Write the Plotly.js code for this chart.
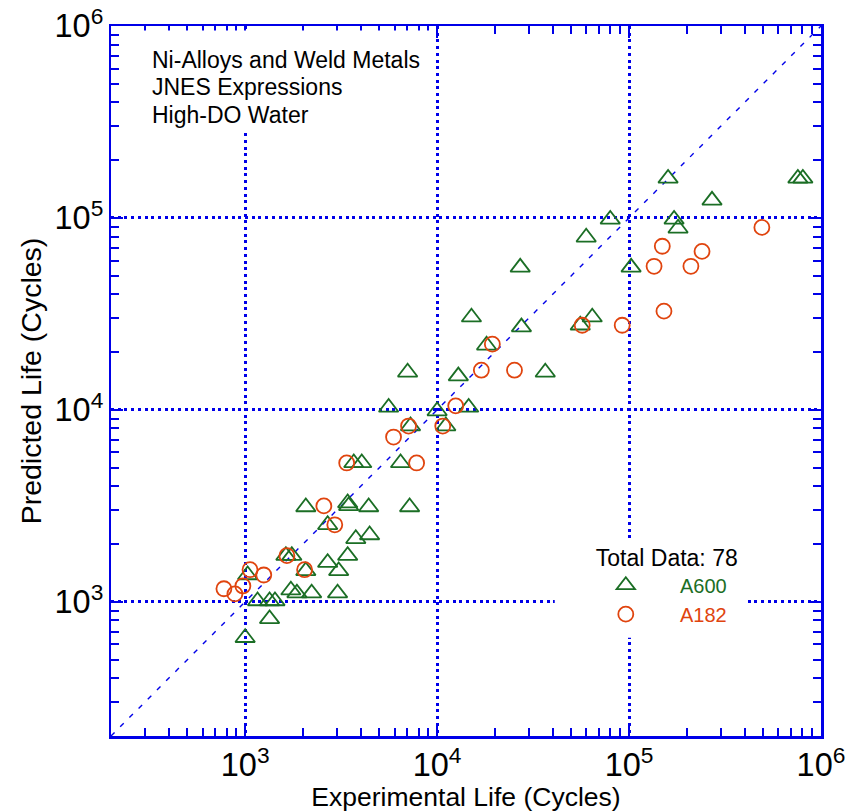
<!DOCTYPE html>
<html>
<head>
<meta charset="utf-8">
<script src="https://cdn.plot.ly/plotly-3.0.1.min.js"></script>
<style>html,body{margin:0;padding:0;background:#fff;}#chart{width:851px;height:812px;}</style>
</head>
<body>
<div id="chart"></div>
<script>
// ---- Data ----
const a600X = [1000,1340,1160,1340,1430,1030,1730,1860,2220,3030,1630,1750,2070,2690,3070,3420,3770,4450,2070,3420,3460,4400,7190,2690,3680,4050,6450,5590,10000,14600,7270,11100,7020,12900,18100,36600,15100,27500,27100,55700,64300,59800,79800,102500,159700,171600,180000,270500,757600,804300];
const a600Y = [650,815,1010,1010,1010,1380,1150,1110,1110,1110,1740,1740,1450,1600,1450,1740,2130,2230,3120,3270,3160,3120,3120,2520,5290,5290,5290,10300,9860,10300,8240,8240,15700,15000,21700,15700,30400,27000,55300,27600,30400,79300,98300,55300,160700,98300,88300,123500,160700,160700];
const a182X = [1060,1250,973,775,884,1650,2040,2570,2930,3380,7820,5930,7100,10700,12500,17000,25300,19400,57000,92100,152000,135000,210000,149000,240000,492000];
const a182Y = [1470,1380,1210,1170,1100,1740,1470,3160,2520,5290,5290,7220,8240,8240,10500,16100,16100,22000,27600,27600,32700,56000,56000,71200,67000,89300];
const diagX = [200, 1000000];
const diagY = [200, 1000000];
const seriesNames = ['A600', 'A182'];
const legendTitle = 'Total Data: 78';
const noteLines = ['Ni-Alloys and Weld Metals', 'JNES Expressions', 'High-DO Water'];
const xTitle = 'Experimental Life (Cycles)';
const yTitle = 'Predicted Life (Cycles)';

const BLUE = '#0000e8';
const GREEN = '#1b6e25';
const ORANGE = '#e0440e';
const FONT = 'Liberation Sans, Arial, Helvetica, sans-serif';
const PAD = '\u00a0'.repeat(4);

const traces = [
  {x: diagX, y: diagY, mode: 'lines', type: 'scatter', showlegend: false,
   line: {color: BLUE, width: 1.4, dash: '5px,8px'}},
  {x: a600X, y: a600Y, mode: 'markers', type: 'scatter', name: PAD + '<span style="color:' + GREEN + '">' + seriesNames[0] + '</span>',
   marker: {symbol: 'triangle-up-open', size: 17, color: GREEN, line: {color: GREEN, width: 1.8}}},
  {x: a182X, y: a182Y, mode: 'markers', type: 'scatter', name: PAD + '<span style="color:' + ORANGE + '">' + seriesNames[1] + '</span>',
   marker: {symbol: 'circle-open', size: 15, color: ORANGE, line: {color: ORANGE, width: 1.8}}}
];

function axis(titleText, titleSize) {
  return {
    type: 'log', range: [Math.log10(200), 6], dtick: 1,
    exponentformat: 'power', showexponent: 'all',
    showgrid: true, gridcolor: BLUE, gridwidth: 3, griddash: '3px,3.7px',
    zeroline: false, showline: true, linecolor: BLUE, linewidth: 2.5, mirror: 'allticks',
    ticks: 'inside', ticklen: 12, tickwidth: 2, tickcolor: BLUE,
    minor: {ticks: 'inside', ticklen: 8, tickwidth: 2, tickcolor: BLUE, dtick: 'D1', showgrid: false},
    tickfont: {family: FONT, size: 26, color: '#000'},
    title: {text: titleText, font: {family: FONT, size: titleSize, color: '#000'}},
    automargin: false
  };
}

const xa = axis(xTitle, 26.5); xa.title.standoff = 10;
const ya = axis(yTitle, 28.5); ya.title.standoff = 5;

const annotations = noteLines.map((t, i) => ({
  text: t, xref: 'paper', yref: 'paper', x: 0.0556, y: [0.9515, 0.9135, 0.8748][i],
  xanchor: 'left', yanchor: 'middle', showarrow: false, align: 'left',
  font: {family: FONT, size: 23, color: '#000'}
}));

const layout = {
  width: 851, height: 812,
  margin: {l: 110.5, r: 29.5, t: 25.5, b: 75.5},
  paper_bgcolor: '#fff', plot_bgcolor: '#fff',
  font: {family: FONT, color: '#000'},
  xaxis: xa, yaxis: ya,
  showlegend: true,
  legend: {
    x: 0.680, y: 0.282, xanchor: 'left', yanchor: 'top',
    bgcolor: 'rgba(255,255,255,0)', borderwidth: 0,
    title: {text: legendTitle, font: {family: FONT, size: 23, color: '#000'}},
    font: {family: FONT, size: 20, color: '#000'},
    itemwidth: 54, tracegroupgap: 0
  },
  shapes: [
    {type: 'rect', xref: 'paper', yref: 'paper', x0: 0.0415, x1: 0.452, y0: 0.853, y1: 0.9937,
     fillcolor: '#fff', line: {width: 0}, layer: 'above'},
    {type: 'rect', xref: 'paper', yref: 'paper', x0: 0.625, x1: 0.8966, y0: 0.1385, y1: 0.2764,
     fillcolor: '#fff', line: {width: 0}, layer: 'above'}
  ],
  annotations: annotations,
  hovermode: false
};

Plotly.newPlot('chart', traces, layout, {staticPlot: true, displayModeBar: false});
</script>
</body>
</html>
